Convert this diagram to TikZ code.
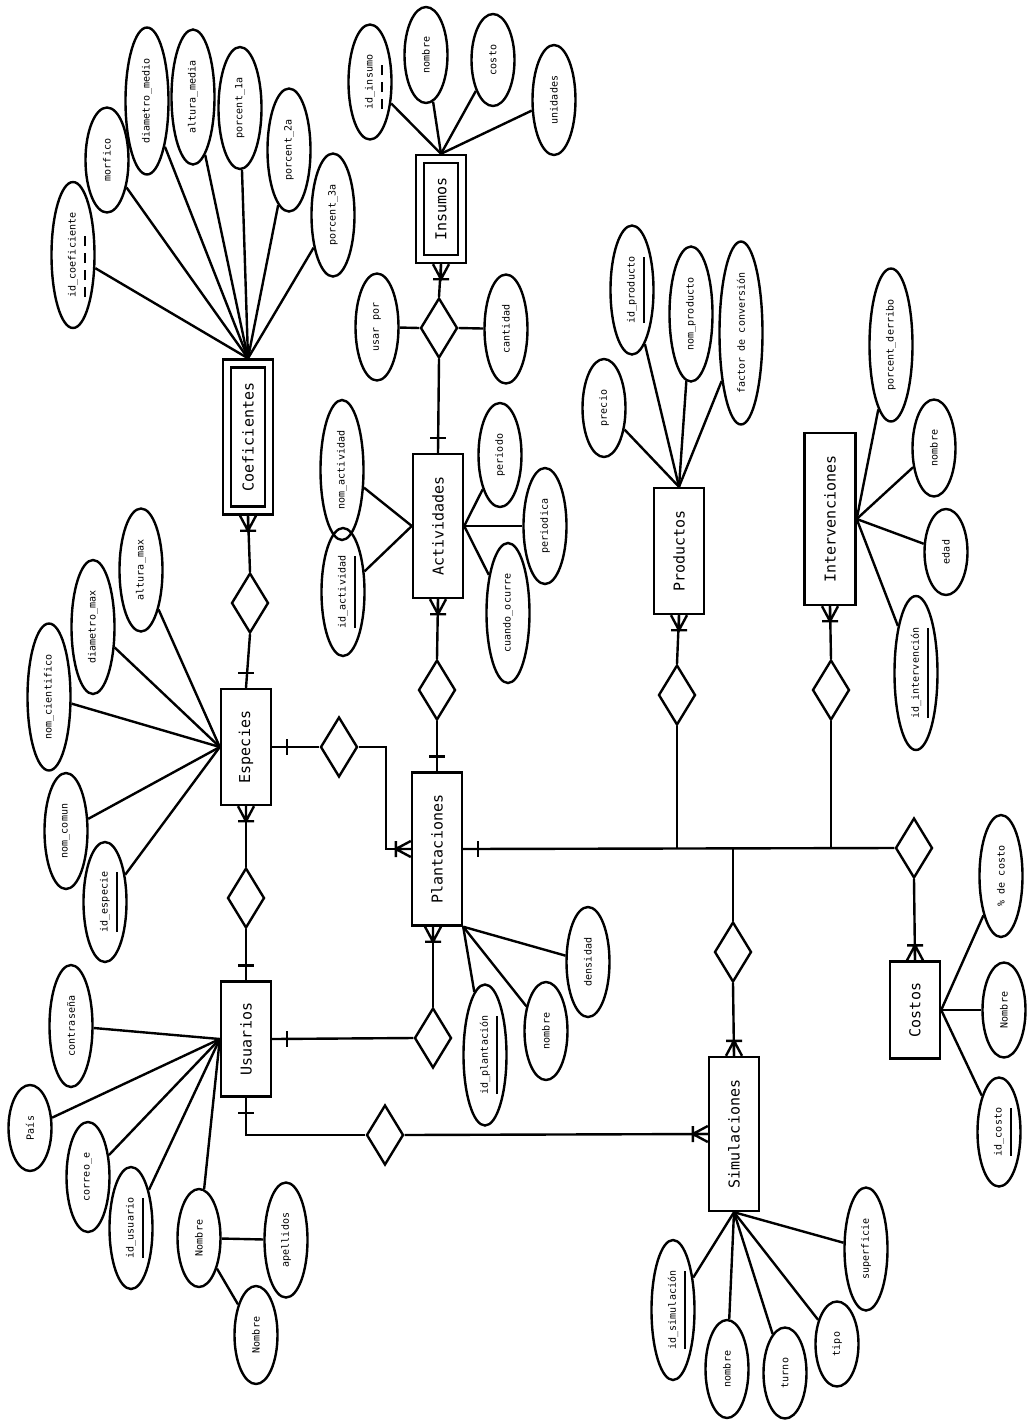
\documentclass[tikz,border=0pt]{standalone}
\usepackage{fontspec}
\setmainfont{DejaVu Sans Mono}
\usepackage{graphicx}
\usetikzlibrary{shapes.geometric}

\newcommand{\vt}[1]{\rotatebox{90}{#1}}
\newcommand{\pk}[1]{\rotatebox{90}{\setbox0=\hbox{#1}\rlap{\raisebox{-10.5pt}[0pt][0pt]{\rule{\wd0}{2.5pt}}}\box0}}
\newcommand{\wk}[1]{\rotatebox{90}{\setbox0=\hbox{#1}\rlap{\raisebox{-10.5pt}[0pt][0pt]{\hbox to \wd0{\leaders\hbox to 17pt{\rule{10pt}{2.5pt}\hss}\hfill}}}\box0}}

\tikzset{
  ent/.style={rectangle, draw, fill=white, inner sep=0pt, font=\fontsize{15}{18}\selectfont},
  weak/.style={ent, double, double distance=5.6pt, outer sep=5.2pt},
  attr/.style={ellipse, draw, inner sep=0pt, minimum width=43pt, font=\fontsize{10}{12}\selectfont},
  rel/.style={diamond, draw, fill=white, inner sep=0pt, minimum width=37pt, minimum height=60pt},
  many down/.pic={\draw (-8,0) -- (0,15) -- (8,0) (0,0) -- (0,15) (-8,15) -- (8,15);},
  many up/.pic={\draw (-8,0) -- (0,-15) -- (8,0) (0,0) -- (0,-15) (-8,-15) -- (8,-15);},
  many left/.pic={\draw (0,-8) -- (-15,0) -- (0,8) (0,0) -- (-15,0) (-15,-8) -- (-15,8);},
  one down/.pic={\draw (-8,15) -- (8,15);},
  one up/.pic={\draw (-8,-15) -- (8,-15);},
  one right/.pic={\draw (15,-8) -- (15,8);},
}

\begin{document}
\begin{tikzpicture}[x=1pt, y=-1pt, line width=2.4pt]
\useasboundingbox (0,0) rectangle (1029,1428);

% entidades
\node[weak, minimum width=42pt, minimum height=147pt] (coef) at (248,437) {\vt{Coeficientes}};
\node[weak, minimum width=42pt, minimum height=100pt] (ins) at (441,209) {\vt{Insumos}};
\node[ent, minimum width=50pt, minimum height=144pt] (act) at (438,526) {\vt{Actividades}};
\node[ent, minimum width=50pt, minimum height=116pt] (esp) at (246,747) {\vt{Especies}};
\node[ent, minimum width=50pt, minimum height=153pt] (plant) at (437,849) {\vt{Plantaciones}};
\node[ent, minimum width=50pt, minimum height=115pt] (usu) at (246,1039) {\vt{Usuarios}};
\node[ent, minimum width=50pt, minimum height=126pt] (prod) at (679,551) {\vt{Productos}};
\node[ent, minimum width=51pt, minimum height=172pt] (inter) at (830,519) {\vt{Intervenciones}};
\node[ent, minimum width=50pt, minimum height=154pt] (sim) at (734,1134) {\vt{Simulaciones}};
\node[ent, minimum width=50pt, minimum height=97pt] (cos) at (915,1010) {\vt{Costos}};

% relaciones
\node[rel] (dce) at (250,603) {};
\node[rel] (dins) at (439,328) {};
\node[rel] (dap) at (437,690) {};
\node[rel] (dep) at (339,747) {};
\node[rel] (deu) at (246,898) {};
\node[rel] (dpu) at (433,1038) {};
\node[rel] (dus) at (385,1135) {};
\node[rel] (dpr) at (677,695) {};
\node[rel] (din) at (831,690) {};
\node[rel] (dsi) at (733,952) {};
\node[rel] (dco) at (914,848) {};

% atributos
\node[attr, minimum height=146pt] (idcoef) at (73,255) {\wk{id\_coeficiente}};
\node[attr, minimum height=105pt] (morf) at (107,160) {\vt{morfico}};
\node[attr, minimum height=147pt] (dmed) at (147,101) {\vt{diametro\_medio}};
\node[attr, minimum height=135pt] (amed) at (193,97) {\vt{altura\_media}};
\node[attr, minimum height=122pt] (p1) at (240,108) {\vt{porcent\_1a}};
\node[attr, minimum height=123pt] (p2) at (289,150) {\vt{porcent\_2a}};
\node[attr, minimum height=123pt] (p3) at (333,215) {\vt{porcent\_3a}};

\node[attr, minimum height=115pt] (idins) at (370,82) {\wk{id\_insumo}};
\node[attr, minimum height=96pt] (nomins) at (426,55) {\vt{nombre}};
\node[attr, minimum height=92pt] (costo) at (493,60) {\vt{costo}};
\node[attr, minimum height=110pt] (unid) at (554,100) {\vt{unidades}};
\node[attr, minimum height=107pt] (usar) at (377,327) {\vt{usar por}};
\node[attr, minimum height=109pt] (cant) at (506,329) {\vt{cantidad}};

\node[attr, minimum height=140pt] (nomact) at (342,470) {\vt{nom\_actividad}};
\node[attr, minimum height=128pt] (idact) at (343,592) {\pk{id\_actividad}};
\node[attr, minimum height=104pt] (period) at (500,455) {\vt{periodo}};
\node[attr, minimum height=116pt] (periodica) at (545,526) {\vt{periodica}};
\node[attr, minimum height=140pt] (cuando) at (508,613) {\vt{cuando\_ocurre}};

\node[attr, minimum height=123pt] (altmax) at (141,570) {\vt{altura\_max}};
\node[attr, minimum height=134pt] (diamax) at (93,627) {\vt{diametro\_max}};
\node[attr, minimum height=147pt] (nomcient) at (49,697) {\vt{nom\_cientifico}};
\node[attr, minimum height=116pt] (nomcom) at (66,831) {\vt{nom\_comun}};
\node[attr, minimum height=120pt] (idesp) at (105,902) {\pk{id\_especie}};

\node[attr, minimum height=122pt] (contra) at (71,1026) {\vt{contraseña}};
\node[attr, minimum height=86pt] (pais) at (30,1128) {\vt{País}};
\node[attr, minimum height=110pt] (correo) at (88,1177) {\vt{correo\_e}};
\node[attr, minimum height=122pt] (idusu) at (131,1228) {\pk{id\_usuario}};
\node[attr, minimum height=98pt] (nomu) at (199,1238) {\vt{Nombre}};
\node[attr, minimum height=115pt] (apell) at (286,1240) {\vt{apellidos}};
\node[attr, minimum height=98pt] (nomu2) at (256,1335) {\vt{Nombre}};

\node[attr, minimum height=141pt] (idplant) at (485,1055) {\pk{id\_plantación}};
\node[attr, minimum height=98pt] (nompl) at (546,1031) {\vt{nombre}};
\node[attr, minimum height=110pt] (dens) at (588,962) {\vt{densidad}};

\node[attr, minimum height=98pt] (precio) at (604,408) {\vt{precio}};
\node[attr, minimum height=129pt] (idprod) at (632,290) {\pk{id\_producto}};
\node[attr, minimum height=135pt] (nomprod) at (691,314) {\vt{nom\_producto}};
\node[attr, minimum height=183pt] (factor) at (741,333) {\vt{factor de conversión}};

\node[attr, minimum height=153pt] (pder) at (891,345) {\vt{porcent\_derribo}};
\node[attr, minimum height=97pt] (nomint) at (934,448) {\vt{nombre}};
\node[attr, minimum height=86pt] (edad) at (946,552) {\vt{edad}};
\node[attr, minimum height=154pt] (idint) at (916,673) {\pk{id\_intervención}};

\node[attr, minimum height=122pt] (pcos) at (1001,876) {\vt{\% de costo}};
\node[attr, minimum height=95pt] (nomcos) at (1004,1010) {\vt{Nombre}};
\node[attr, minimum height=109pt] (idcos) at (999,1132) {\pk{id\_costo}};

\node[attr, minimum height=140pt] (idsim) at (673,1310) {\pk{id\_simulación}};
\node[attr, minimum height=98pt] (nomsim) at (727,1369) {\vt{nombre}};
\node[attr, minimum height=91pt] (turno) at (785,1373) {\vt{turno}};
\node[attr, minimum height=85pt] (tipo) at (837,1344) {\vt{tipo}};
\node[attr, minimum height=123pt] (sup) at (866,1249) {\vt{superficie}};

% atributos a entidades
\foreach \a in {idcoef,morf,dmed,amed,p1,p2,p3} \draw (coef.north) -- (\a);
\foreach \a in {idins,nomins,costo,unid} \draw (ins.north) -- (\a);
\draw (dins.west) -- (usar);
\draw (dins.east) -- (cant);
\foreach \a in {nomact,idact} \draw (act.west) -- (\a);
\foreach \a in {period,periodica,cuando} \draw (act.east) -- (\a);
\foreach \a in {altmax,diamax,nomcient,nomcom,idesp} \draw (esp.west) -- (\a);
\foreach \a in {contra,pais,correo,idusu,nomu} \draw (usu.west) -- (\a);
\draw (nomu) -- (apell);
\draw (nomu) -- (nomu2);
\foreach \a in {idplant,nompl,dens} \draw (plant.south east) -- (\a);
\foreach \a in {precio,idprod,nomprod,factor} \draw (prod.north) -- (\a);
\foreach \a in {pder,nomint,edad,idint} \draw (inter.east) -- (\a);
\foreach \a in {pcos,nomcos,idcos} \draw (cos.east) -- (\a);
\foreach \a in {idsim,nomsim,turno,tipo,sup} \draw (sim.south) -- (\a);

% relaciones
\draw (coef.south) -- (dce.north);
\draw (dce.south) -- (esp.north);
\draw (ins.south) -- (dins.north);
\draw (dins.south) -- (act.north);
\draw (act.south) -- (dap.north);
\draw (dap.south) -- (plant.north);
\draw (esp.east) -- (dep.west);
\draw (dep.east) -- ++(27,0) |- (plant.west);
\draw (esp.south) -- (deu.north);
\draw (deu.south) -- (usu.north);
\draw (dpu.north |- plant.south) -- (dpu.north);
\draw (dpu.west) -- (usu.east);
\draw (usu.south) |- (dus.west);
\draw (dus.east) -- (sim.west);
\draw (plant.east) -- (dco.west);
\draw (prod.south) -- (dpr.north);
\draw (dpr.south) -- (dpr.south |- plant.east);
\draw (inter.south) -- (din.north);
\draw (din.south) -- (din.south |- plant.east);
\draw (dsi.north) -- (dsi.north |- plant.east);
\draw (dsi.south) -- (sim.north);
\draw (dco.south) -- (cos.north);

% cardinalidades
\pic at (coef.south) {many down};
\pic at (esp.north) {one up};
\pic at (ins.south) {many down};
\pic at (act.north) {one up};
\pic at (act.south) {many down};
\pic at (plant.north) {one up};
\pic at (esp.east) {one right};
\pic at (plant.west) {many left};
\pic at (esp.south) {many down};
\pic at (usu.north) {one up};
\pic at (dpu.north |- plant.south) {many down};
\pic at (usu.east) {one right};
\pic at (usu.south) {one down};
\pic at (sim.west) {many left};
\pic at (plant.east) {one right};
\pic at (prod.south) {many down};
\pic at (inter.south) {many down};
\pic at (sim.north) {many up};
\pic at (cos.north) {many up};
\end{tikzpicture}
\end{document}
